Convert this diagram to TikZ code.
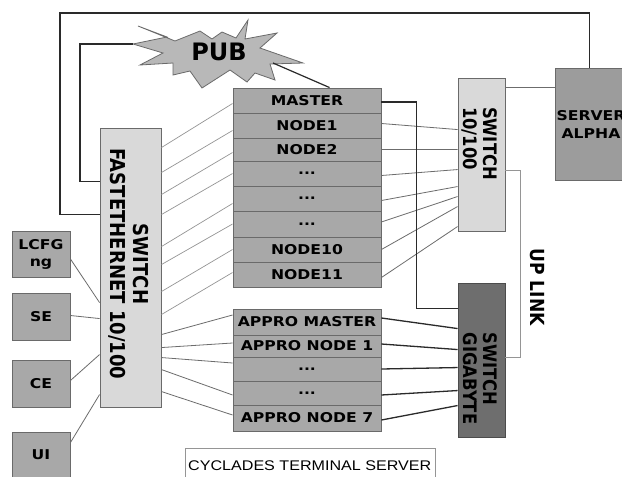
\documentclass[tikz,border=0pt]{standalone}
\usepackage{fontspec}
\newfontfamily\hfont{DejaVu Sans Bold}[FakeStretch=1.16]
\newfontfamily\vfont{DejaVu Sans Bold}[FakeStretch=0.88]
\newfontfamily\pfont{DejaVu Sans Bold}
\newfontfamily\cyfont{Liberation Sans}[FakeStretch=1.15]
\usetikzlibrary{calc}
\definecolor{rowgray}{HTML}{A8A8A8}
\definecolor{edgegray}{HTML}{6A6A6A}
\definecolor{lightsw}{HTML}{D9D9D9}
\definecolor{srvgray}{HTML}{9C9C9C}
\definecolor{gigagray}{HTML}{6E6E6E}
\definecolor{pubgray}{HTML}{B8B8B8}
\definecolor{thingray}{HTML}{959595}
\definecolor{midgray}{HTML}{6C6C6C}
\definecolor{darkline}{HTML}{2A2A2A}
\begin{document}
\begin{tikzpicture}[x=1pt,y=-1pt,
  rowbox/.style={draw=edgegray, line width=0.9pt, fill=rowgray, minimum width=148pt, inner sep=0pt, font=\hfont\fontsize{13.5}{15}\selectfont, text=black},
  sidebox/.style={draw=edgegray, line width=0.9pt, fill=rowgray, minimum width=58pt, inner sep=0pt, align=center, font=\hfont\fontsize{13.5}{17}\selectfont},
  swbox/.style={draw=edgegray, line width=0.9pt, fill=lightsw, inner sep=0pt},
  vlabel/.style={rotate=-90, inner sep=0pt, font=\vfont\fontsize{18.6}{20}\selectfont},
  thinline/.style={draw=thingray, line width=0.7pt},
  midline/.style={draw=midgray, line width=0.8pt},
  wire/.style={draw=darkline, line width=1.3pt},
  heavy/.style={draw=darkline, line width=1.6pt},
]
\useasboundingbox (0,0) rectangle (622,477);
\clip (0,0) rectangle (622,477);
\fill[white] (0,0) rectangle (622,477);

% PUB starburst
\filldraw[fill=pubgray, draw=edgegray, line width=0.8pt]
  (138,26) -- (175,41) -- (200,31) -- (212,39) -- (222,32) -- (236,38) -- (248,20) -- (245,39)
  -- (277,33) -- (260,48) -- (303,63) -- (270,64) -- (275,80) -- (255,73) -- (247,82)
  -- (230,70) -- (202,88) -- (190,71) -- (173,75) -- (173,63) -- (140,65) -- (163,53)
  -- (133,44) -- (167,37) -- cycle;
\coordinate (pubL) at (133,44);
\coordinate (pubR) at (273,63);
\node[font=\pfont\fontsize{24}{26}\selectfont, inner sep=0pt] (pub) at (219,52) {PUB};

% node stack
\node[rowbox, minimum height=25pt] (master) at (307,100.5) {MASTER};
\node[rowbox, minimum height=25pt] (n1) at (307,125.5) {NODE1};
\node[rowbox, minimum height=23pt] (n2) at (307,149.5) {NODE2};
\node[rowbox, minimum height=25pt] (d1) at (307,173.5) {...};
\node[rowbox, minimum height=25pt] (d2) at (307,198.5) {...};
\node[rowbox, minimum height=26pt] (d3) at (307,224) {...};
\node[rowbox, minimum height=25pt] (n10) at (307,249.5) {NODE10};
\node[rowbox, minimum height=25pt] (n11) at (307,274.5) {NODE11};

% appro stack
\node[rowbox, minimum height=26pt] (am) at (307,322) {APPRO MASTER};
\node[rowbox, minimum height=22pt] (a1) at (307,346) {APPRO NODE 1};
\node[rowbox, minimum height=24pt] (ad1) at (307,369) {...};
\node[rowbox, minimum height=24pt] (ad2) at (307,393) {...};
\node[rowbox, minimum height=26pt] (a7) at (307,418) {APPRO NODE 7};

% switches and server
\node[swbox, minimum width=61pt, minimum height=279pt] (sf) at (130.5,267.5) {};
\node[vlabel, align=center, font=\vfont\fontsize{20.5}{22.5}\selectfont] (sfl) at (128.5,264) {SWITCH\\FASTETHERNET 10/100};
\node[swbox, minimum width=47pt, minimum height=153pt] (s10) at (481.5,154.5) {};
\node[vlabel, align=left] (s10l) at (480,143.5) {SWITCH\\10/100};
\node[swbox, fill=gigagray, draw=black!70, minimum width=47pt, minimum height=154pt] (sg) at (481.5,360) {};
\node[vlabel, align=left] (sgl) at (480,378.5) {SWITCH\\GIGABYTE};
\node[swbox, fill=srvgray, minimum width=72pt, minimum height=112pt, align=center, font=\hfont\fontsize{13.5}{18}\selectfont] (sa) at (591,124) {SERVER\\ALPHA};
\node[vlabel, font=\vfont\fontsize{19.4}{20}\selectfont] (upl) at (537,287) {UP LINK};

% left boxes
\node[sidebox, minimum height=46pt] (lcfg) at (41,254) {LCFG\\ng};
\node[sidebox, minimum height=47pt] (se) at (41,316.5) {SE};
\node[sidebox, minimum height=47pt] (ce) at (41,383.5) {CE};
\node[sidebox, minimum height=46pt] (ui) at (41,455) {UI};

% cyclades
\node[draw=thingray, line width=0.8pt, fill=white, minimum width=250pt, minimum height=42pt, anchor=north west, inner sep=0pt] (cy) at (185,448) {};
\node[anchor=base west, inner sep=0pt, font=\cyfont\fontsize{14}{16}\selectfont] (cyl) at ($(cy.north west)+(3,22)$) {CYCLADES TERMINAL SERVER};

% switch fastethernet to node stack
\draw[thinline] ($(sf.north east)+(0,20)$) -- ($(master.west)+(0,3)$);
\draw[thinline] ($(sf.north east)+(0,45)$) -- ($(n1.west)+(0,5)$);
\draw[thinline] ($(sf.north east)+(0,67)$) -- ($(n2.west)+(0,3)$);
\draw[thinline] ($(sf.north east)+(0,87)$) -- (d1.west);
\draw[thinline] ($(sf.north east)+(0,119)$) -- ($(d2.west)+(0,5)$);
\draw[thinline] ($(sf.north east)+(0,137)$) -- (d3.west);
\draw[thinline] ($(sf.north east)+(0,164)$) -- (n10.west);
\draw[thinline] ($(sf.north east)+(0,187)$) -- ($(n11.west)+(0,-2)$);
% switch fastethernet to appro stack
\draw[midline] ($(sf.north east)+(0,207)$) -- ($(am.west)+(0,-7)$);
\draw[midline] ($(sf.north east)+(0,220)$) -- ($(a1.west)+(0,-3)$);
\draw[midline] ($(sf.north east)+(0,230)$) -- ($(ad1.west)+(0,-6)$);
\draw[midline] ($(sf.north east)+(0,242)$) -- ($(ad2.west)+(0,2)$);
\draw[midline] ($(sf.north east)+(0,264)$) -- ($(a7.west)+(0,-3)$);

% node stack to switch 10/100
\draw[midline] ($(n1.east)+(0,-2)$) -- ($(s10.north west)+(0,52)$);
\draw[midline] (n2.east) -- ($(s10.north west)+(0,72)$);
\draw[midline] ($(d1.east)+(0,2)$) -- ($(s10.north west)+(0,92)$);
\draw[midline] ($(d2.east)+(0,2)$) -- ($(s10.north west)+(0,109)$);
\draw[midline] ($(d3.east)+(0,-2)$) -- ($(s10.north west)+(0,119)$);
\draw[midline] (n10.east) -- ($(s10.north west)+(0,129)$);
\draw[midline] ($(n11.east)+(0,3)$) -- ($(s10.north west)+(0,149)$);

% appro stack to gigabyte switch
\draw[wire] ($(am.east)+(0,-4)$) -- ($(sg.north west)+(0,46)$);
\draw[wire] ($(a1.east)+(0,-2)$) -- ($(sg.north west)+(0,67)$);
\draw[wire] (ad1.east) -- ($(sg.north west)+(0,85)$);
\draw[wire] ($(ad2.east)+(0,2)$) -- ($(sg.north west)+(0,108)$);
\draw[wire] ($(a7.east)+(0,2)$) -- ($(sg.north west)+(0,123)$);

% master to gigabyte
\draw[heavy] ($(master.east)+(0,1.5)$) -- ++(35,0) |- ($(sg.north west)+(0,26)$);

% switch 10/100 to server alpha
\draw[midline] ($(s10.north east)+(0,10)$) -- ($(sa.north west)+(0,20)$);
% up link
\draw[thinline, line width=0.9pt] ($(s10.north east)+(0,93)$) -- ++(15,0) |- ($(sg.north east)+(0,75)$);

% outer loop switch fastethernet to server alpha
\coordinate (loopc) at (60,13);
\draw[heavy] ($(sf.north west)+(0,87)$) -| (loopc) -| ($(sa.north west)+(35,0)$);
% PUB to switch fastethernet
\draw[heavy] (pubL) -- ++(-53,0) |- ($(sf.north west)+(0,54)$);
% PUB to master
\draw[heavy, line width=1.2pt] (pubR) -- ($(master.north west)+(97,0)$);

% left boxes to switch
\draw[midline] ($(lcfg.east)+(0,5)$) -- ($(sf.north west)+(0,175)$);
\draw[midline] ($(se.east)+(0,-1)$) -- ($(sf.north west)+(0,191)$);
\draw[midline] ($(ce.east)+(0,-3)$) -- ($(sf.north west)+(0,227)$);
\draw[midline] ($(ui.north east)+(0,11)$) -- ($(sf.north west)+(0,267)$);
\end{tikzpicture}
\end{document}
